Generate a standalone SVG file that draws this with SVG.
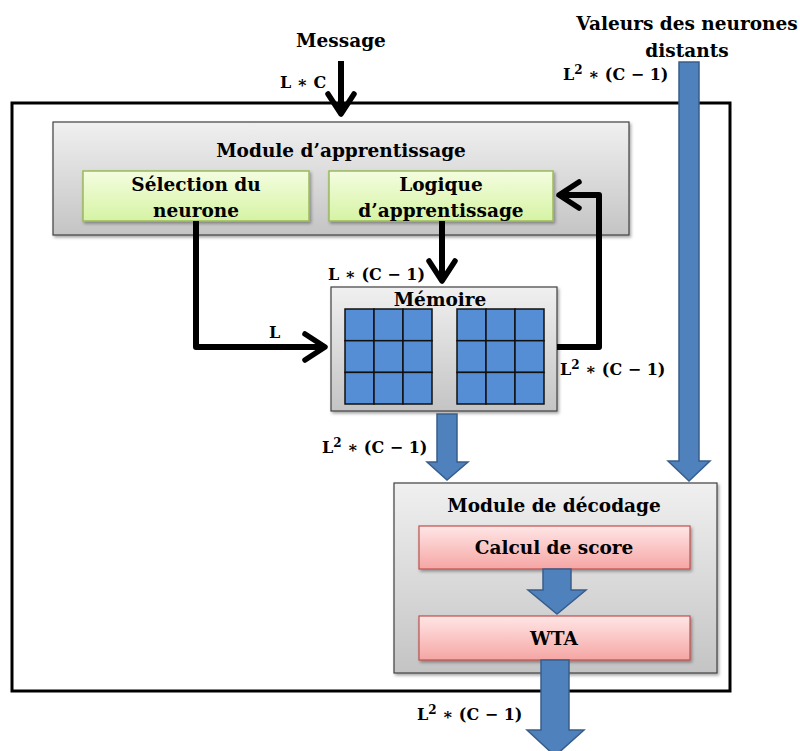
<svg xmlns="http://www.w3.org/2000/svg" width="800" height="751" viewBox="0 0 800 751">
<defs>
<linearGradient id="gGray" x1="0" y1="0" x2="0" y2="1"><stop offset="0" stop-color="#f0f0f0"/><stop offset="1" stop-color="#c4c4c4"/></linearGradient>
<linearGradient id="gGreen" x1="0" y1="0" x2="0" y2="1"><stop offset="0" stop-color="#f4fde0"/><stop offset="1" stop-color="#d6f3a4"/></linearGradient>
<linearGradient id="gRed" x1="0" y1="0" x2="0" y2="1"><stop offset="0" stop-color="#ffe6e6"/><stop offset="1" stop-color="#f5a6a4"/></linearGradient>
<filter id="sh" x="-10%" y="-10%" width="130%" height="140%"><feDropShadow dx="1.5" dy="2" stdDeviation="1.5" flood-color="#000" flood-opacity="0.35"/></filter>
<marker id="chev" viewBox="0 0 28 32" markerWidth="28" markerHeight="32" refX="24" refY="16" orient="auto" markerUnits="userSpaceOnUse">
<path d="M4,3 L24,16 L4,29" fill="none" stroke="#000" stroke-width="5.5" stroke-linecap="round" stroke-linejoin="round"/>
</marker>
<style>
text{font-family:"DejaVu Serif","Liberation Serif",serif;font-weight:bold;fill:#000}
.t{font-size:18.5px;text-anchor:middle}
.m{font-size:16px}
.sup{font-size:12px}
.module{fill:url(#gGray);stroke:#404040;stroke-width:1.2;filter:url(#sh)}
.green{fill:url(#gGreen);stroke:#9bbb59;stroke-width:1.5;filter:url(#sh)}
.red{fill:url(#gRed);stroke:#c0504d;stroke-width:1.2;filter:url(#sh)}
.cell{fill:#558ed5;stroke:#111;stroke-width:1.5}
.blue{fill:#4f81bd;stroke:#385d8a;stroke-width:1.5;stroke-linejoin:miter}
.wire{fill:none;stroke:#000;stroke-width:6;stroke-linejoin:round;marker-end:url(#chev)}
</style>
</defs>
<rect id="outer" x="12" y="103" width="718" height="588" fill="#fff" stroke="#000" stroke-width="3"/>

<g id="labels-in">
<text class="t" x="341" y="47">Message</text>
<text class="m" x="280" y="88">L ∗ C</text>
<text class="t" x="687" y="30">Valeurs des neurones</text>
<text class="t" x="687" y="57">distants</text>
<text class="m" x="563" y="80">L<tspan class="sup" dy="-6">2</tspan><tspan dy="6"> ∗ (C − 1)</tspan></text>
</g>

<g id="module-apprentissage">
<rect class="module" x="53" y="122" width="576" height="113"/>
<text class="t" x="341" y="157">Module d’apprentissage</text>
</g>
<g id="selection">
<rect class="green" x="83" y="171" width="226" height="50"/>
<text class="t" x="196" y="191">Sélection du</text>
<text class="t" x="196" y="217">neurone</text>
</g>
<g id="logique">
<rect class="green" x="329" y="171" width="224" height="50"/>
<text class="t" x="441" y="191">Logique</text>
<text class="t" x="441" y="217">d’apprentissage</text>
</g>

<g id="memoire">
<rect class="module" x="331" y="287" width="226" height="124"/>
<text class="t" x="440" y="306">Mémoire</text>
<g>
<rect class="cell" x="345" y="309" width="29" height="31.7"/><rect class="cell" x="374" y="309" width="29" height="31.7"/><rect class="cell" x="403" y="309" width="29" height="31.7"/>
<rect class="cell" x="345" y="340.7" width="29" height="31.7"/><rect class="cell" x="374" y="340.7" width="29" height="31.7"/><rect class="cell" x="403" y="340.7" width="29" height="31.7"/>
<rect class="cell" x="345" y="372.4" width="29" height="31.6"/><rect class="cell" x="374" y="372.4" width="29" height="31.6"/><rect class="cell" x="403" y="372.4" width="29" height="31.6"/>
</g>
<g>
<rect class="cell" x="457" y="309" width="29" height="31.7"/><rect class="cell" x="486" y="309" width="29" height="31.7"/><rect class="cell" x="515" y="309" width="29" height="31.7"/>
<rect class="cell" x="457" y="340.7" width="29" height="31.7"/><rect class="cell" x="486" y="340.7" width="29" height="31.7"/><rect class="cell" x="515" y="340.7" width="29" height="31.7"/>
<rect class="cell" x="457" y="372.4" width="29" height="31.6"/><rect class="cell" x="486" y="372.4" width="29" height="31.6"/><rect class="cell" x="515" y="372.4" width="29" height="31.6"/>
</g>
</g>

<g id="module-decodage">
<rect class="module" x="394" y="483" width="323" height="190"/>
<text class="t" x="554" y="512">Module de décodage</text>
</g>
<g id="calcul">
<rect class="red" x="419" y="526" width="271" height="43"/>
<text class="t" x="554" y="554">Calcul de score</text>
</g>
<g id="wta">
<rect class="red" x="419" y="616" width="271" height="44"/>
<text class="t" x="554" y="645">WTA</text>
</g>

<g id="connectors">
<path class="wire" d="M341,61 L341,114"/>
<path class="wire" d="M196,221 L196,347 L325,347"/>
<path class="wire" d="M442,221 L442,281"/>
<path class="wire" d="M557,347 L599,347 L599,195 L559,195"/>
<polygon class="blue" points="679,62 699,62 699,461 710,461 689,481 668,461 679,461"/>
<polygon class="blue" points="437,414 457,414 457,462 468,462 447,480 427,462 437,462"/>
<polygon class="blue" points="543,569 571,569 571,590 586,590 557,614 528,590 543,590"/>
<polygon class="blue" points="541,660 569,660 569,730 584,730 555,756 527,730 541,730"/>
<text class="m" x="269" y="338">L</text>
<text class="m" x="328" y="280">L ∗ (C − 1)</text>
<text class="m" x="560" y="375">L<tspan class="sup" dy="-6">2</tspan><tspan dy="6"> ∗ (C − 1)</tspan></text>
<text class="m" x="322" y="453">L<tspan class="sup" dy="-6">2</tspan><tspan dy="6"> ∗ (C − 1)</tspan></text>
<text class="m" x="417" y="720">L<tspan class="sup" dy="-6">2</tspan><tspan dy="6"> ∗ (C − 1)</tspan></text>
</g>
</svg>
